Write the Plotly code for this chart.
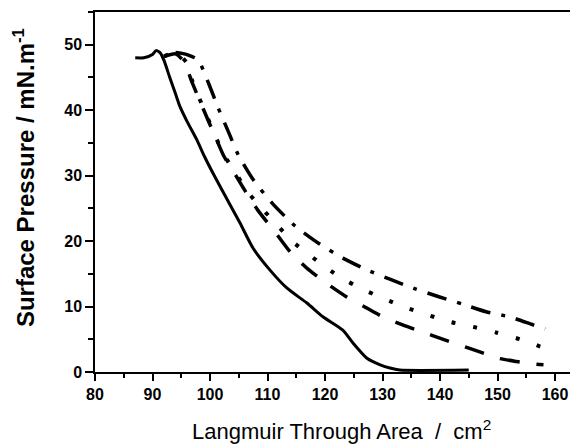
import plotly.graph_objects as go

# Solid curve
solid_x = [87, 88.5, 90, 90.6, 91.3, 92, 93, 94, 94.8, 96, 97.7, 99, 100.5, 103.2, 105.2, 107.5, 110.4,
           113.4, 116.9, 119.7, 123.1, 124.9, 127.3, 129.6, 131.3, 133, 145]
solid_y = [48, 48, 48.5, 49.1, 48.8, 47.6, 45, 42.5, 40.5, 38.3, 35.5, 33, 30.4, 26, 22.8, 18.9, 15.6,
           12.8, 10.5, 8.4, 6.4, 4.4, 2.1, 1.1, 0.6, 0.3, 0.3]

# Dashed curve (lowest)
dash_x = [92, 94, 95.5, 96.9, 98.2, 99.5, 101, 102.4, 104.5, 106.3, 108.5, 111.3, 114, 117.2, 120.5,
          123.7, 127, 130.1, 133.5, 137, 140.2, 143.5, 146.8, 150.1, 153.3, 156.5, 158]
dash_y = [48.2, 48.6, 47.4, 44.2, 41.5, 38.8, 35.8, 33, 30, 27.4, 24.5, 21.4, 18.3, 15.6, 13.4,
          11.5, 9.9, 8.4, 7.2, 6.1, 5.1, 4.1, 3.1, 2.1, 1.6, 1.2, 1.1]

# Dotted curve (middle)
dot_x = [92, 94, 96, 96.9, 99.5, 102.4, 104.7, 106.3, 108.5, 111, 114.4, 118.6, 122.6, 126.4, 130.3,
         134.2, 138.3, 142, 145.8, 149.9, 153.9, 157.7, 158.3]
dot_y = [48.2, 48.8, 47.2, 44.5, 39, 33.2, 30.1, 27.8, 25.5, 23.1, 19.9, 17, 14.5, 12.7, 11.2,
         9.8, 8.6, 7.6, 6.9, 6.0, 5.0, 3.8, 3.6]

# Dash-dot curve (top)
dashdot_x = [94, 96, 97.9, 99.8, 101.4, 103.3, 104.9, 107.5, 110.8, 114.8, 119, 123.1, 127.3, 131.5,
             135.7, 139.8, 143.8, 148, 152.2, 156.2, 158.3]
dashdot_y = [48.8, 48.5, 47.7, 44, 40.4, 36.5, 33.2, 29.4, 25.8, 22.3, 19.6, 17.4, 15.6, 14.1,
             12.7, 11.5, 10.4, 9.2, 8.4, 7.2, 6.6]

x_ticks = [80, 90, 100, 110, 120, 130, 140, 150, 160]
y_ticks = [0, 10, 20, 30, 40, 50]

fig = go.Figure()
fig.add_trace(go.Scatter(x=solid_x, y=solid_y, mode="lines",
                         line=dict(color="black", width=3, shape="spline", smoothing=0.6)))
fig.add_trace(go.Scatter(x=dash_x, y=dash_y, mode="lines",
                         line=dict(color="black", width=3.5, dash="20px,17px", shape="spline", smoothing=0.6)))
fig.add_trace(go.Scatter(x=dot_x, y=dot_y, mode="lines",
                         line=dict(color="black", width=4, dash="4px,18px", shape="spline", smoothing=0.6)))
fig.add_trace(go.Scatter(x=dashdot_x, y=dashdot_y, mode="lines",
                         line=dict(color="black", width=3.5, dash="20px,11px,4px,11px", shape="spline", smoothing=0.6)))

fig.update_layout(
    width=570, height=440,
    margin=dict(l=87, r=0, t=4, b=76),
    paper_bgcolor="white", plot_bgcolor="white",
    showlegend=False,
    font=dict(family="Liberation Sans, Arial, sans-serif", color="black"),
    xaxis=dict(range=[80, 164], tickvals=x_ticks, ticks="outside", ticklen=7, tickwidth=1.5,
               tickcolor="black", showline=True, linecolor="black", linewidth=1.5, mirror=True,
               showgrid=False, zeroline=False,
               tickfont=dict(size=16, weight="bold", color="black"),
               minor=dict(dtick=5, ticks="outside", ticklen=4, tickcolor="black", tickwidth=1.5)),
    yaxis=dict(range=[0, 55], tickvals=y_ticks, ticks="outside", ticklen=8, tickwidth=1.5,
               tickcolor="black", showline=True, linecolor="black", linewidth=1.5, mirror=False,
               showgrid=False, zeroline=False,
               tickfont=dict(size=16, weight="bold", color="black"),
               minor=dict(dtick=5, ticks="outside", ticklen=5, tickcolor="black", tickwidth=1.5)),
    annotations=[
        dict(text="Langmuir Through Area  /  cm<sup>2</sup>", xref="paper", yref="paper",
             x=0.51, y=-0.162, xanchor="center", yanchor="middle", showarrow=False,
             font=dict(size=22, color="black")),
        dict(text="<b>Surface Pressure / mN.m<sup>-1</sup></b>", xref="paper", yref="paper",
             x=-0.148, y=0.54, xanchor="center", yanchor="middle", textangle=-90, showarrow=False,
             font=dict(size=24, color="black")),
    ],
)

fig.write_html("out.html")
